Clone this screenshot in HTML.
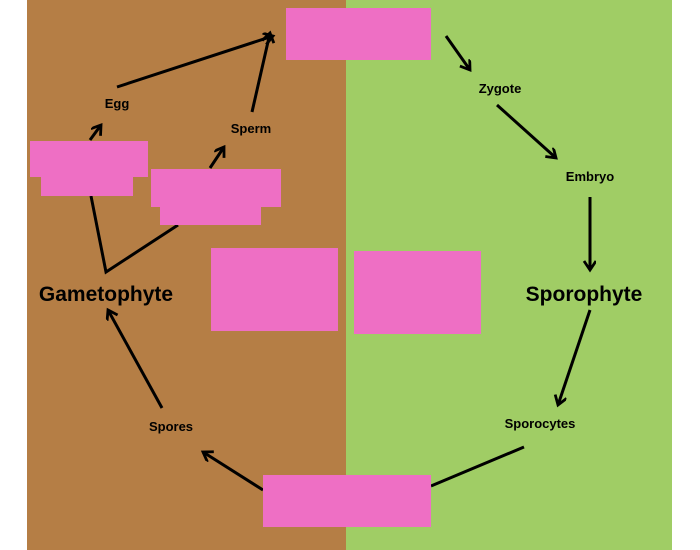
<!DOCTYPE html><html><head><style>body{margin:0;width:700px;height:550px;background:#fff;overflow:hidden}svg{display:block}text{font-family:"Liberation Sans",sans-serif;font-weight:bold;text-anchor:middle;fill:#000}</style></head><body>
<svg width="700" height="550" xmlns="http://www.w3.org/2000/svg">
<defs><marker id="a" markerWidth="14" markerHeight="14" refX="10" refY="6" orient="auto" markerUnits="userSpaceOnUse"><path d="M1,0 L10,6 L1,12" fill="none" stroke="#000" stroke-width="2.8"/></marker></defs>
<rect x="27" y="0" width="319" height="550" fill="#b57e45"/>
<rect x="346" y="0" width="326" height="550" fill="#a0cd65"/>
<g stroke="#000" stroke-width="3" fill="none">
<line x1="117" y1="87" x2="273" y2="36" marker-end="url(#a)"/>
<line x1="252" y1="112" x2="270" y2="33" marker-end="url(#a)"/>
<polyline points="91,196 106,272 178,225"/>
<line x1="90" y1="140" x2="101" y2="125" marker-end="url(#a)"/>
<line x1="210" y1="168" x2="224" y2="147" marker-end="url(#a)"/>
<line x1="446" y1="36" x2="470" y2="70" marker-end="url(#a)"/>
<line x1="497" y1="105" x2="556" y2="158" marker-end="url(#a)"/>
<line x1="590" y1="197" x2="590" y2="270" marker-end="url(#a)"/>
<line x1="590" y1="310" x2="558" y2="405" marker-end="url(#a)"/>
<line x1="524" y1="447" x2="431" y2="486"/>
<line x1="263" y1="490" x2="203" y2="452" marker-end="url(#a)"/>
<line x1="162" y1="408" x2="108" y2="310" marker-end="url(#a)"/>
</g>
<g fill="#ee6fc4">
<rect x="286" y="8" width="145" height="52"/>
<rect x="30" y="141" width="118" height="36"/><rect x="41" y="177" width="92" height="19"/>
<rect x="151" y="169" width="130" height="38"/><rect x="160" y="207" width="101" height="18"/>
<rect x="211" y="248" width="127" height="83"/>
<rect x="354" y="251" width="127" height="83"/>
<rect x="263" y="475" width="168" height="52"/>
</g>
<text x="117" y="108" font-size="13">Egg</text>
<text x="251" y="133" font-size="13">Sperm</text>
<text x="500" y="93" font-size="13">Zygote</text>
<text x="590" y="181" font-size="13">Embryo</text>
<text x="106" y="301" font-size="21">Gametophyte</text>
<text x="584" y="301" font-size="21">Sporophyte</text>
<text x="540" y="428" font-size="13">Sporocytes</text>
<text x="171" y="431" font-size="13">Spores</text>
</svg></body></html>
